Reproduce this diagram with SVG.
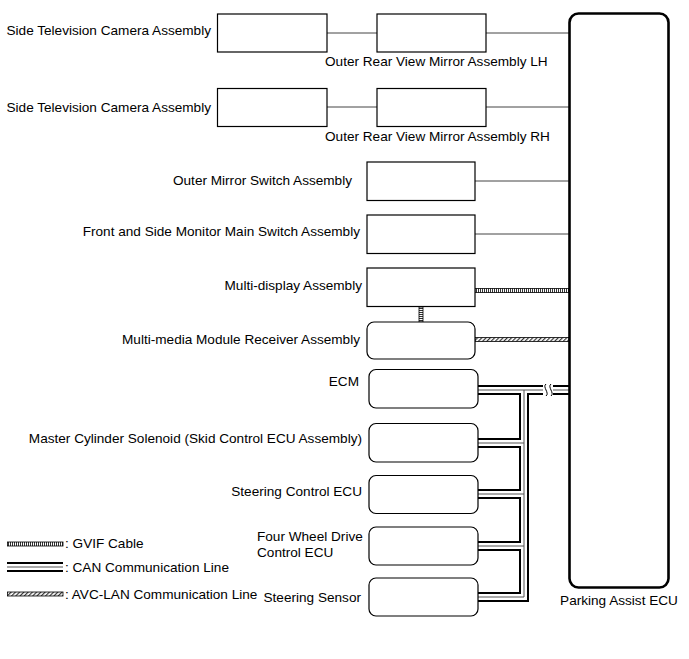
<svg xmlns="http://www.w3.org/2000/svg" width="689" height="659" viewBox="0 0 689 659">
<style>
text{font-family:"Liberation Sans",Arial,sans-serif;font-size:13.6px;fill:#000}
.e{text-anchor:end}
.box{fill:#fff;stroke:#000;stroke-width:1.2}
.ecu{fill:#fff;stroke:#000;stroke-width:2.6}
.w{fill:none;stroke:#444;stroke-width:1}
.c1{fill:none;stroke:#000;stroke-width:10;stroke-linejoin:miter}
.c2{fill:none;stroke:#fff;stroke-width:6;stroke-linejoin:miter}
.c3{fill:none;stroke:#555;stroke-width:1;stroke-linejoin:miter}
.hatch{stroke:#000;stroke-width:0.8}
</style>
<defs>
<pattern id="vt" width="2" height="4" patternUnits="userSpaceOnUse"><rect width="2" height="4" fill="#fff"/><rect width="1" height="4" fill="#333"/></pattern>
<pattern id="hz" width="4" height="2" patternUnits="userSpaceOnUse"><rect width="4" height="2" fill="#fff"/><rect width="4" height="1" fill="#333"/></pattern>
<pattern id="dg" width="3" height="3" patternUnits="userSpaceOnUse" patternTransform="rotate(45)"><rect width="3" height="3" fill="#fff"/><rect width="1.2" height="3" fill="#333"/></pattern>
</defs>

<g id="connectors">
<line class="w" x1="327" y1="33" x2="377" y2="33"/>
<line class="w" x1="486" y1="33" x2="570" y2="33"/>
<line class="w" x1="327" y1="107" x2="377" y2="107"/>
<line class="w" x1="486" y1="107" x2="570" y2="107"/>
<line class="w" x1="475" y1="181" x2="570" y2="181"/>
<line class="w" x1="475" y1="234" x2="570" y2="234"/>
<rect class="hatch" x="475" y="288.5" width="94" height="4" fill="url(#vt)"/>
<rect class="hatch" x="419" y="307" width="4" height="15" fill="url(#hz)"/>
<rect class="hatch" x="475" y="337.5" width="94" height="4" fill="url(#dg)"/>
<g id="can">
<path class="c1" d="M478,390 H569 M524,390 V597 H478 M478,443 H524 M478,494 H524 M478,546 H524"/>
<path class="c2" d="M478,390 H569 M524,390 V597 H478 M478,443 H524 M478,494 H524 M478,546 H524"/>
<path class="c3" d="M478,390 H569 M524,390 V597 H478 M478,443 H524 M478,494 H524 M478,546 H524"/>
<rect x="543" y="384" width="10" height="12" fill="#fff"/>
<path d="M546,384 c-4,3 4,9 0,12 M551,384 c-4,3 4,9 0,12" fill="none" stroke="#000" stroke-width="1"/>
</g>
</g>

<g id="parking-assist-ecu">
<rect class="ecu" x="569.5" y="13.5" width="99" height="574" rx="9"/>
<text x="619" y="605" text-anchor="middle">Parking Assist ECU</text>
</g>
<g id="camera-lh">
<rect class="box" x="217.5" y="14" width="109.5" height="38"/>
<text class="e" x="211" y="35">Side Television Camera Assembly</text>
</g>
<g id="mirror-lh">
<rect class="box" x="377" y="14" width="109" height="38"/>
<text x="325" y="66">Outer Rear View Mirror Assembly LH</text>
</g>
<g id="camera-rh">
<rect class="box" x="217.5" y="88.5" width="109.5" height="38"/>
<text class="e" x="211" y="112">Side Television Camera Assembly</text>
</g>
<g id="mirror-rh">
<rect class="box" x="377" y="88.5" width="109" height="38"/>
<text x="325" y="141">Outer Rear View Mirror Assembly RH</text>
</g>
<g id="outer-mirror-switch">
<rect class="box" x="367" y="162" width="108" height="38.5"/>
<text class="e" x="352" y="185">Outer Mirror Switch Assembly</text>
</g>
<g id="monitor-switch">
<rect class="box" x="367" y="215" width="108" height="38.5"/>
<text class="e" x="360" y="236">Front and Side Monitor Main Switch Assembly</text>
</g>
<g id="multi-display">
<rect class="box" x="367" y="268" width="108" height="38.5"/>
<text class="e" x="362" y="290">Multi-display Assembly</text>
</g>
<g id="multi-media">
<rect class="box" x="367" y="322" width="108" height="37" rx="7"/>
<text class="e" x="360" y="344">Multi-media Module Receiver Assembly</text>
</g>
<g id="ecm">
<rect class="box" x="369" y="369.5" width="109" height="38.5" rx="7"/>
<text class="e" x="359" y="386">ECM</text>
</g>
<g id="master-cylinder">
<rect class="box" x="369" y="423.5" width="109" height="38.5" rx="7"/>
<text class="e" x="362" y="443">Master Cylinder Solenoid (Skid Control ECU Assembly)</text>
</g>
<g id="steering-control">
<rect class="box" x="369" y="475.5" width="109" height="38" rx="7"/>
<text class="e" x="362" y="496">Steering Control ECU</text>
</g>
<g id="four-wheel-drive">
<rect class="box" x="369" y="527" width="109" height="38" rx="7"/>
<text x="257" y="541">Four Wheel Drive</text>
<text x="257" y="557">Control ECU</text>
</g>
<g id="steering-sensor">
<rect class="box" x="369" y="578" width="109" height="38" rx="7"/>
<text class="e" x="361" y="602">Steering Sensor</text>
</g>

<g id="legend">
<rect class="hatch" x="7.5" y="542" width="55.5" height="4" fill="url(#vt)"/>
<text x="65" y="548">: GVIF Cable</text>
<path class="c1" d="M7,567 H63"/>
<path class="c2" d="M7,567 H63"/>
<path class="c3" d="M7,567 H63"/>
<text x="65" y="572">: CAN Communication Line</text>
<rect class="hatch" x="7.5" y="592" width="55.5" height="4" fill="url(#dg)"/>
<text x="65" y="599">: AVC-LAN Communication Line</text>
</g>
</svg>
